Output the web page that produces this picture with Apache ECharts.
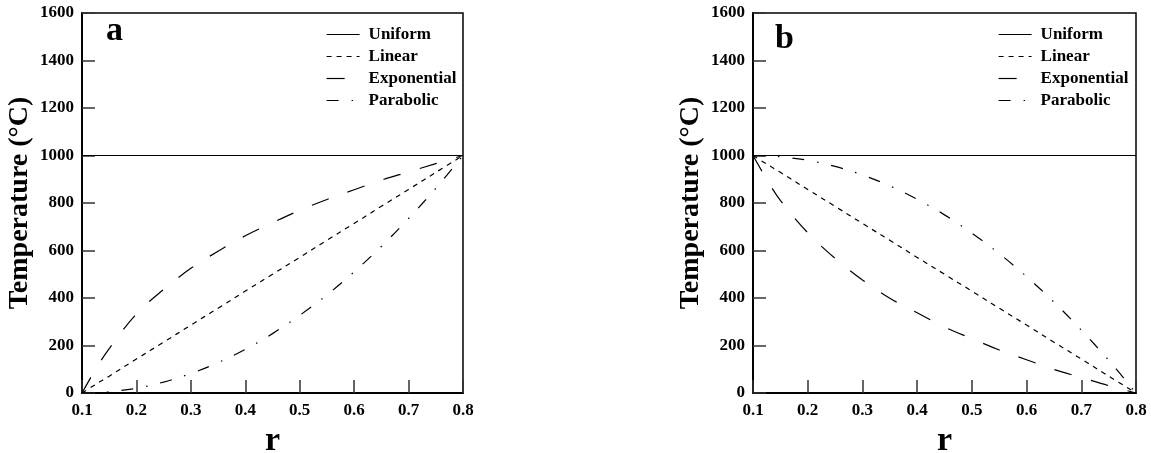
<!DOCTYPE html>
<html>
<head>
<meta charset="utf-8">
<script src="https://cdn.jsdelivr.net/npm/echarts@6/dist/echarts.min.js"></script>
<style>html,body{margin:0;padding:0;background:#fff}#c{width:1151px;height:453px}</style>
</head>
<body>
<div id="c"></div>
<script>
// radius positions (r)
const rPoints = [0.1, 0.125, 0.15, 0.2, 0.25, 0.3, 0.35, 0.4, 0.45, 0.5, 0.55, 0.6, 0.65, 0.7, 0.75, 0.8];
const seriesNames = ['Uniform', 'Linear', 'Exponential', 'Parabolic'];
const xTicks = [0.1, 0.2, 0.3, 0.4, 0.5, 0.6, 0.7, 0.8];
const yTicks = [0, 200, 400, 600, 800, 1000, 1200, 1400, 1600];

// panel a (temperature rising outward)
const aUniform     = [1000, 1000, 1000, 1000, 1000, 1000, 1000, 1000, 1000, 1000, 1000, 1000, 1000, 1000, 1000, 1000];
const aLinear      = [0, 36, 71, 143, 214, 286, 357, 429, 500, 571, 643, 714, 786, 857, 929, 1000];
const aExponential = [0, 100, 187, 333, 436, 525, 597, 662, 717, 769, 815, 856, 896, 931, 966, 1000];
const aParabolic   = [0, 1, 5, 20, 46, 82, 128, 184, 250, 327, 413, 510, 617, 735, 862, 1000];

// panel b (temperature falling outward)
const bUniform     = [1000, 1000, 1000, 1000, 1000, 1000, 1000, 1000, 1000, 1000, 1000, 1000, 1000, 1000, 1000, 1000];
const bLinear      = [1000, 964, 929, 857, 786, 714, 643, 571, 500, 429, 357, 286, 214, 143, 71, 0];
const bExponential = [1000, 900, 811, 675, 567, 476, 399, 338, 278, 229, 181, 140, 99, 65, 31, 0];
const bParabolic   = [1000, 999, 995, 980, 954, 918, 872, 816, 750, 673, 587, 490, 383, 265, 138, 0];

const FONT = '"Liberation Serif", "Times New Roman", serif';
const styles = {
  Uniform:     { type: 'solid', width: 1.2 },
  Linear:      { type: [5, 5], width: 1.2 },
  Exponential: { type: [18, 20], width: 1.2 },
  Parabolic:   { type: [12, 13, 1.5, 13], width: 1.2 }
};
const panels = [
  { label: 'a', data: [aUniform, aLinear, aExponential, aParabolic] },
  { label: 'b', data: [bUniform, bLinear, bExponential, bParabolic] }
];
const grids = [
  { left: 82, top: 13, width: 381, height: 380 },
  { left: 753, top: 13, width: 383, height: 380 }
];

function zip(xs, ys) { return xs.map((x, i) => [x, ys[i]]); }

const option = {
  animation: false,
  backgroundColor: '#fff',
  title: [
    { text: 'a', left: 106, top: 14, padding: 0, textStyle: { fontFamily: FONT, fontWeight: 'bold', fontSize: 34, color: '#000' } },
    { text: 'b', left: 775, top: 22, padding: 0, textStyle: { fontFamily: FONT, fontWeight: 'bold', fontSize: 34, color: '#000' } }
  ],
  legend: [0, 1].map(i => ({
    data: seriesNames,
    orient: 'vertical',
    left: i === 0 ? 326 : 998,
    top: 26,
    itemWidth: 33,
    itemHeight: 14,
    itemGap: 5,
    padding: 0,
    selectedMode: false,
    itemStyle: { color: 'transparent', borderWidth: 0, opacity: 0 },
    lineStyle: { width: 1.2, color: '#000' },
    textStyle: { fontFamily: FONT, fontWeight: 'bold', fontSize: 17, color: '#000', padding: [0, 0, 0, 4] }
  })),
  grid: grids.map(g => Object.assign({ show: true, borderColor: '#000', borderWidth: 1.5, backgroundColor: 'transparent', containLabel: false, outerBoundsMode: 'none' }, g)),
  xAxis: [0, 1].map(i => ({
    gridIndex: i,
    type: 'value',
    min: 0.1, max: 0.8, interval: 0.1,
    name: 'r',
    nameLocation: 'middle',
    nameGap: 25,
    nameTextStyle: { fontFamily: FONT, fontWeight: 'bold', fontSize: 34, color: '#000' },
    axisLine: { show: true, lineStyle: { color: '#000', width: 2 } },
    axisTick: { show: true, inside: true, length: 13, lineStyle: { color: '#333', width: 1.5 } },
    axisLabel: { margin: 9, fontFamily: FONT, fontWeight: 'bold', fontSize: 17, color: '#000',
      formatter: v => v.toFixed(1) },
    splitLine: { show: false }
  })),
  yAxis: [0, 1].map(i => ({
    gridIndex: i,
    type: 'value',
    min: 0, max: 1600, interval: 200,
    name: 'Temperature (°C)',
    nameLocation: 'middle',
    nameGap: 48,
    nameTextStyle: { fontFamily: FONT, fontWeight: 'bold', fontSize: 28, color: '#000' },
    axisLine: { show: true, lineStyle: { color: '#000', width: 2 } },
    axisTick: { show: true, inside: true, length: 13, lineStyle: { color: '#333', width: 1.5 } },
    axisLabel: { margin: 8, fontFamily: FONT, fontWeight: 'bold', fontSize: 17, color: '#000',
      formatter: v => String(v) },
    splitLine: { show: false }
  })),
  series: []
};

panels.forEach((p, pi) => {
  seriesNames.forEach((name, si) => {
    option.series.push({
      name: name,
      type: 'line',
      xAxisIndex: pi,
      yAxisIndex: pi,
      data: zip(rPoints, p.data[si]),
      smooth: 0.35,
      symbol: 'none',
      lineStyle: Object.assign({ color: '#000' }, styles[name]),
      itemStyle: { color: '#000' },
      emphasis: { disabled: true }
    });
  });
});

const chart = echarts.init(document.getElementById('c'), null, { renderer: 'canvas' });
chart.setOption(option);
</script>
</body>
</html>
